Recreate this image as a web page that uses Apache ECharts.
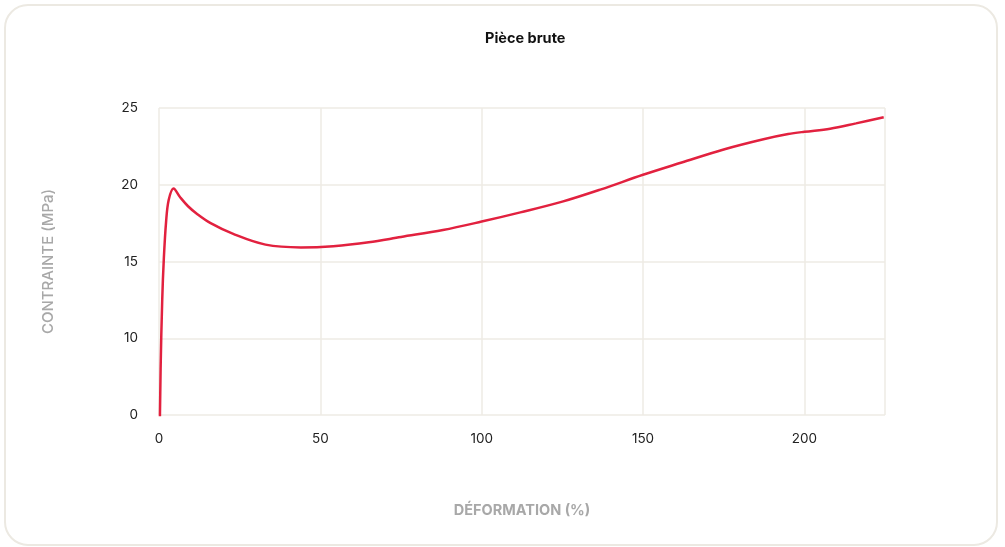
<!DOCTYPE html>
<html>
<head>
	<meta charset="UTF-8">
	<title>Pièce brute</title>
	<style>
		html, body { margin: 0; padding: 0; background: #fff; }
		#card {
			position: absolute; left: 4px; top: 4px;
			width: 990px; height: 538px;
			border: 2px solid #ece9e2; border-radius: 24px;
		}
		#chart { position: absolute; left: 0; top: 0; width: 1005px; height: 547px; }
	</style>
	<script src="https://cdn.jsdelivr.net/npm/echarts@6/dist/echarts.min.js"></script>
</head>
<body>
	<div id="card"></div>
	<div id="chart"></div>
	<script>
		// déformation (%) et contrainte (MPa)
		var strain = [0, 0.5, 1.0, 1.5, 2.2, 3.0, 4.5, 6.5, 9, 11.8, 16, 23, 33, 44, 54, 65, 75, 88, 100, 112, 125, 137, 150, 162, 175, 187, 195, 200, 208, 216, 224.6];
		var stress = [0, 8, 12.5, 15.2, 17.6, 19, 19.75, 19.2, 18.6, 18.1, 17.5, 16.8, 16.1, 15.92, 16.0, 16.25, 16.6, 17.05, 17.6, 18.2, 18.9, 19.7, 20.65, 21.45, 22.3, 22.95, 23.3, 23.45, 23.65, 24.0, 24.4];
		var xTicks = [0, 50, 100, 150, 200];
		var yTicks = [5, 10, 15, 20, 25];

		var points = strain.map(function (x, i) { return [x, stress[i]]; });
		var font = 'Inter, "Noto Sans", sans-serif';

		var chart = echarts.init(document.getElementById('chart'));
		chart.setOption({
			animation: false,
			title: {
				text: 'Pièce brute',
				left: 480, top: 26,
				textStyle: { fontFamily: font, fontSize: 14.5, fontWeight: 'bold', color: '#111' }
			},
			grid: { left: 159, right: 120, top: 108, bottom: 132 },
			xAxis: {
				type: 'value', min: 0, max: 225, interval: 50,
				name: 'DÉFORMATION (%)', nameLocation: 'middle', nameGap: 88,
				nameTextStyle: { fontFamily: font, fontSize: 14.5, fontWeight: 'bold', color: '#a8a8a8' },
				axisLine: { show: false }, axisTick: { show: false },
				axisLabel: { fontFamily: font, fontSize: 13.5, color: '#222', margin: 17, showMaxLabel: false },
				splitLine: { lineStyle: { color: '#eeebe4', width: 1.5 } }
			},
			yAxis: {
				type: 'value', min: 5, max: 25, interval: 5,
				name: 'CONTRAINTE (MPa)', nameLocation: 'middle', nameGap: 103,
				nameTextStyle: { fontFamily: font, fontSize: 15, fontWeight: 500, color: '#a8a8a8' },
				axisLine: { show: false }, axisTick: { show: false },
				axisLabel: {
					fontFamily: font, fontSize: 13.5, color: '#222', margin: 21,
					formatter: function (v) { return v === yTicks[0] ? '0' : String(v); }
				},
				splitLine: { lineStyle: { color: '#eeebe4', width: 1.5 } }
			},
			series: [{
				type: 'line',
				data: points,
				smooth: 0.35,
				showSymbol: false,
				clip: true,
				lineStyle: { color: '#e2213f', width: 2.5 }
			}]
		});
	</script>
</body>
</html>
